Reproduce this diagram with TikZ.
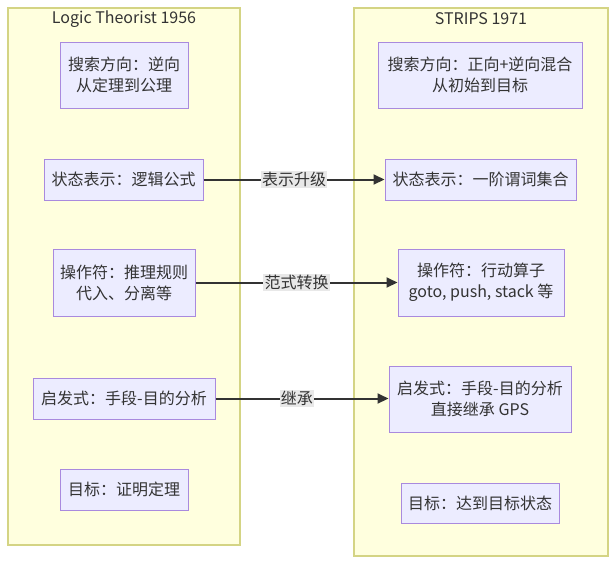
\documentclass[tikz,border=0pt]{standalone}
\usepackage{fontspec}
\setmainfont{Noto Sans CJK SC}
\usetikzlibrary{arrows.meta}
\definecolor{clfill}{HTML}{FFFFDE}
\definecolor{cldraw}{HTML}{D4D484}
\definecolor{nfill}{HTML}{ECECFF}
\definecolor{ndraw}{HTML}{A98ADE}
\definecolor{tx}{HTML}{333333}
\definecolor{lbl}{HTML}{E8E8E8}
\tikzset{
  cluster/.style={draw=cldraw, fill=clfill, line width=1.3pt},
  box/.style={draw=ndraw, fill=nfill, line width=1pt, text=tx, align=center, inner sep=0pt, font=\fontsize{16}{21}\selectfont},
  ctitle/.style={text=tx, font=\fontsize{16}{19}\selectfont},
  link/.style={draw=tx, line width=2pt, -{Triangle[length=11pt,width=10pt]}},
  elabel/.style={fill=lbl, text=tx, inner sep=1.2pt, font=\fontsize{16}{19}\selectfont}
}
\begin{document}
\begin{tikzpicture}[x=1pt,y=-1pt]
\useasboundingbox (0,0) rectangle (615,566);
\path[cluster] (8,8) rectangle (240,545);
\path[cluster] (354,8) rectangle (608,556);
\node[ctitle] (lt) at (124,19) {Logic Theorist 1956};
\node[ctitle] (rt) at (481,19) {STRIPS 1971};
% left
\node[box, minimum width=128pt, minimum height=66pt] (L1) at (124,75) {搜索方向：逆向\\从定理到公理};
\node[box, minimum width=159pt, minimum height=41pt] (L2) at (123.5,179.5) {状态表示：逻辑公式};
\node[box, minimum width=142pt, minimum height=67pt] (L3) at (124,282.5) {操作符：推理规则\\代入、分离等};
\node[box, minimum width=182pt, minimum height=41pt] (L4) at (124,398.5) {启发式：手段-目的分析};
\node[box, minimum width=128pt, minimum height=41pt] (L5) at (124,489.5) {目标：证明定理};
% right
\node[box, minimum width=204pt, minimum height=66pt] (R1) at (480,75) {搜索方向：正向+逆向混合\\从初始到目标};
\node[box, minimum width=191pt, minimum height=41pt] (R2) at (480.5,179.5) {状态表示：一阶谓词集合};
\node[box, minimum width=166pt, minimum height=67pt] (R3) at (481,282.5) {操作符：行动算子\\goto, push, stack 等};
\node[box, minimum width=182pt, minimum height=66pt] (R4) at (480,399) {启发式：手段-目的分析\\直接继承 GPS};
\node[box, minimum width=158pt, minimum height=40pt] (R5) at (480,503) {目标：达到目标状态};
% edges
\draw[link] (L2.east) -- node[elabel] {表示升级} (R2.west);
\draw[link] (L3.east) -- node[elabel] {范式转换} (R3.west);
\draw[link] (L4.east) -- node[elabel, pos=0.47] {继承} (L4.east -| R4.west);
\end{tikzpicture}
\end{document}
